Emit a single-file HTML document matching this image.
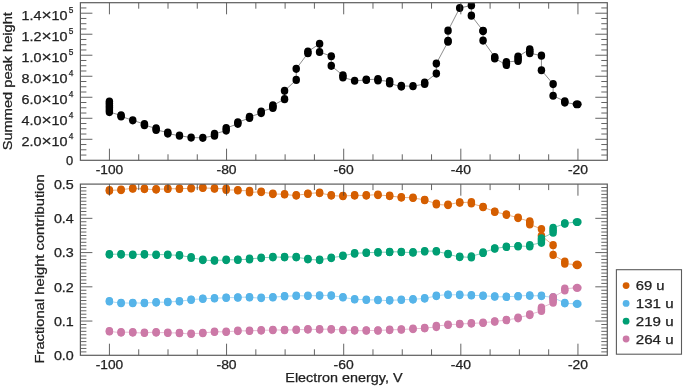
<!DOCTYPE html>
<html><head><meta charset="utf-8"><style>
html,body{margin:0;padding:0;background:#fff;width:685px;height:388px;overflow:hidden}
svg{display:block;font-family:"Liberation Sans", sans-serif;will-change:transform}
</style></head><body>
<svg width="685" height="388" viewBox="0 0 685 388">
<defs>
<clipPath id="ct"><rect x="80.4" y="2.7" width="526.9" height="157.60000000000002"/></clipPath>
<clipPath id="cb"><rect x="80.4" y="184.1" width="526.9" height="171.20000000000002"/></clipPath>
</defs>
<rect width="685" height="388" fill="#ffffff"/>
<g clip-path="url(#ct)">
<polyline points="109.40,101.50 109.40,112.10 121.08,115.40 121.08,116.40 132.75,120.35 144.43,124.10 144.43,125.20 156.11,128.40 156.11,129.90 167.78,132.50 167.78,133.60 179.46,135.70 191.14,137.55 202.81,137.80 214.49,135.70 214.49,133.90 226.17,130.60 226.17,128.10 237.84,123.80 237.84,122.30 249.52,118.00 249.52,116.90 261.20,113.10 261.20,111.60 272.87,107.90 272.87,105.40 284.55,99.15 284.55,90.80 296.23,79.90 296.23,68.85 307.90,53.20 307.90,51.50 319.58,43.85 319.58,52.00 331.26,56.25 331.26,65.85 342.93,75.30 342.93,77.40 354.61,80.75 366.29,80.00 366.29,79.60 377.96,79.20 377.96,80.40 389.64,81.20 389.64,83.50 401.32,86.60 401.32,85.90 412.99,86.20 424.67,84.00 424.67,82.50 436.34,73.55 436.34,63.55 448.02,41.70 448.02,40.90 448.02,30.65 459.70,8.00 471.37,5.40 471.37,15.65 483.05,30.80 483.05,31.10 483.05,40.60 494.73,57.00 494.73,58.40 506.40,64.90 506.40,62.10 518.08,60.90 518.08,56.50 529.76,49.30 529.76,53.20 541.43,55.65 541.43,70.25 553.11,84.05 553.11,95.75 564.79,101.30 564.79,102.60 577.16,104.25" fill="none" stroke="#606060" stroke-width="0.9" stroke-opacity="0.8" stroke-linejoin="round"/>
<ellipse cx="109.40" cy="101.50" rx="3.75" ry="4.1" fill="#000000"/><ellipse cx="109.40" cy="103.62" rx="3.75" ry="4.1" fill="#000000"/><ellipse cx="109.40" cy="105.74" rx="3.75" ry="4.1" fill="#000000"/><ellipse cx="109.40" cy="107.86" rx="3.75" ry="4.1" fill="#000000"/><ellipse cx="109.40" cy="109.98" rx="3.75" ry="4.1" fill="#000000"/><ellipse cx="109.40" cy="112.10" rx="3.75" ry="4.1" fill="#000000"/>
<ellipse cx="121.08" cy="115.40" rx="3.75" ry="4.1" fill="#000000"/><ellipse cx="121.08" cy="116.40" rx="3.75" ry="4.1" fill="#000000"/>
<ellipse cx="132.75" cy="120.35" rx="3.75" ry="4.1" fill="#000000"/>
<ellipse cx="144.43" cy="124.10" rx="3.75" ry="4.1" fill="#000000"/><ellipse cx="144.43" cy="125.20" rx="3.75" ry="4.1" fill="#000000"/>
<ellipse cx="156.11" cy="128.40" rx="3.75" ry="4.1" fill="#000000"/><ellipse cx="156.11" cy="129.90" rx="3.75" ry="4.1" fill="#000000"/>
<ellipse cx="167.78" cy="132.50" rx="3.75" ry="4.1" fill="#000000"/><ellipse cx="167.78" cy="133.60" rx="3.75" ry="4.1" fill="#000000"/>
<ellipse cx="179.46" cy="135.70" rx="3.75" ry="4.1" fill="#000000"/>
<ellipse cx="191.14" cy="137.55" rx="3.75" ry="4.1" fill="#000000"/>
<ellipse cx="202.81" cy="137.80" rx="3.75" ry="4.1" fill="#000000"/>
<ellipse cx="214.49" cy="133.90" rx="3.75" ry="4.1" fill="#000000"/><ellipse cx="214.49" cy="135.70" rx="3.75" ry="4.1" fill="#000000"/>
<ellipse cx="226.17" cy="128.10" rx="3.75" ry="4.1" fill="#000000"/><ellipse cx="226.17" cy="130.60" rx="3.75" ry="4.1" fill="#000000"/>
<ellipse cx="237.84" cy="122.30" rx="3.75" ry="4.1" fill="#000000"/><ellipse cx="237.84" cy="123.80" rx="3.75" ry="4.1" fill="#000000"/>
<ellipse cx="249.52" cy="116.90" rx="3.75" ry="4.1" fill="#000000"/><ellipse cx="249.52" cy="118.00" rx="3.75" ry="4.1" fill="#000000"/>
<ellipse cx="261.20" cy="111.60" rx="3.75" ry="4.1" fill="#000000"/><ellipse cx="261.20" cy="113.10" rx="3.75" ry="4.1" fill="#000000"/>
<ellipse cx="272.87" cy="105.40" rx="3.75" ry="4.1" fill="#000000"/><ellipse cx="272.87" cy="106.65" rx="3.75" ry="4.1" fill="#000000"/><ellipse cx="272.87" cy="107.90" rx="3.75" ry="4.1" fill="#000000"/>
<ellipse cx="284.55" cy="90.80" rx="3.75" ry="4.1" fill="#000000"/>
<ellipse cx="284.55" cy="99.15" rx="3.75" ry="4.1" fill="#000000"/>
<ellipse cx="296.23" cy="68.85" rx="3.75" ry="4.1" fill="#000000"/>
<ellipse cx="296.23" cy="79.90" rx="3.75" ry="4.1" fill="#000000"/>
<ellipse cx="307.90" cy="51.50" rx="3.75" ry="4.1" fill="#000000"/><ellipse cx="307.90" cy="53.20" rx="3.75" ry="4.1" fill="#000000"/>
<ellipse cx="319.58" cy="43.85" rx="3.75" ry="4.1" fill="#000000"/>
<ellipse cx="319.58" cy="52.00" rx="3.75" ry="4.1" fill="#000000"/>
<ellipse cx="331.26" cy="56.25" rx="3.75" ry="4.1" fill="#000000"/>
<ellipse cx="331.26" cy="65.85" rx="3.75" ry="4.1" fill="#000000"/>
<ellipse cx="342.93" cy="75.30" rx="3.75" ry="4.1" fill="#000000"/><ellipse cx="342.93" cy="77.40" rx="3.75" ry="4.1" fill="#000000"/>
<ellipse cx="354.61" cy="80.75" rx="3.75" ry="4.1" fill="#000000"/>
<ellipse cx="366.29" cy="79.60" rx="3.75" ry="4.1" fill="#000000"/><ellipse cx="366.29" cy="80.00" rx="3.75" ry="4.1" fill="#000000"/>
<ellipse cx="377.96" cy="79.20" rx="3.75" ry="4.1" fill="#000000"/><ellipse cx="377.96" cy="80.40" rx="3.75" ry="4.1" fill="#000000"/>
<ellipse cx="389.64" cy="81.20" rx="3.75" ry="4.1" fill="#000000"/><ellipse cx="389.64" cy="83.50" rx="3.75" ry="4.1" fill="#000000"/>
<ellipse cx="401.32" cy="85.90" rx="3.75" ry="4.1" fill="#000000"/><ellipse cx="401.32" cy="86.60" rx="3.75" ry="4.1" fill="#000000"/>
<ellipse cx="412.99" cy="86.20" rx="3.75" ry="4.1" fill="#000000"/>
<ellipse cx="424.67" cy="82.50" rx="3.75" ry="4.1" fill="#000000"/><ellipse cx="424.67" cy="84.00" rx="3.75" ry="4.1" fill="#000000"/>
<ellipse cx="436.34" cy="63.55" rx="3.75" ry="4.1" fill="#000000"/>
<ellipse cx="436.34" cy="73.55" rx="3.75" ry="4.1" fill="#000000"/>
<ellipse cx="448.02" cy="30.65" rx="3.75" ry="4.1" fill="#000000"/>
<ellipse cx="448.02" cy="40.90" rx="3.75" ry="4.1" fill="#000000"/><ellipse cx="448.02" cy="41.70" rx="3.75" ry="4.1" fill="#000000"/>
<ellipse cx="459.70" cy="8.00" rx="3.75" ry="4.1" fill="#000000"/>
<ellipse cx="471.37" cy="5.40" rx="3.75" ry="4.1" fill="#000000"/>
<ellipse cx="471.37" cy="15.65" rx="3.75" ry="4.1" fill="#000000"/>
<ellipse cx="483.05" cy="30.80" rx="3.75" ry="4.1" fill="#000000"/><ellipse cx="483.05" cy="31.10" rx="3.75" ry="4.1" fill="#000000"/>
<ellipse cx="483.05" cy="40.60" rx="3.75" ry="4.1" fill="#000000"/>
<ellipse cx="494.73" cy="57.00" rx="3.75" ry="4.1" fill="#000000"/><ellipse cx="494.73" cy="58.40" rx="3.75" ry="4.1" fill="#000000"/>
<ellipse cx="506.40" cy="62.10" rx="3.75" ry="4.1" fill="#000000"/><ellipse cx="506.40" cy="63.50" rx="3.75" ry="4.1" fill="#000000"/><ellipse cx="506.40" cy="64.90" rx="3.75" ry="4.1" fill="#000000"/>
<ellipse cx="518.08" cy="56.50" rx="3.75" ry="4.1" fill="#000000"/><ellipse cx="518.08" cy="58.70" rx="3.75" ry="4.1" fill="#000000"/><ellipse cx="518.08" cy="60.90" rx="3.75" ry="4.1" fill="#000000"/>
<ellipse cx="529.76" cy="49.30" rx="3.75" ry="4.1" fill="#000000"/><ellipse cx="529.76" cy="51.25" rx="3.75" ry="4.1" fill="#000000"/><ellipse cx="529.76" cy="53.20" rx="3.75" ry="4.1" fill="#000000"/>
<ellipse cx="541.43" cy="55.65" rx="3.75" ry="4.1" fill="#000000"/>
<ellipse cx="541.43" cy="70.25" rx="3.75" ry="4.1" fill="#000000"/>
<ellipse cx="553.11" cy="84.05" rx="3.75" ry="4.1" fill="#000000"/>
<ellipse cx="553.11" cy="95.75" rx="3.75" ry="4.1" fill="#000000"/>
<ellipse cx="564.79" cy="101.30" rx="3.75" ry="4.1" fill="#000000"/><ellipse cx="564.79" cy="102.60" rx="3.75" ry="4.1" fill="#000000"/>
<ellipse cx="577.16" cy="104.25" rx="4.5" ry="4.1" fill="#000000"/>
</g>
<g clip-path="url(#cb)">
<polyline points="109.40,190.80 109.40,190.20 121.08,190.10 121.08,189.70 132.75,188.30 132.75,188.70 144.43,188.70 144.43,189.10 156.11,189.60 156.11,189.20 167.78,189.00 167.78,188.60 179.46,188.90 179.46,188.50 191.14,188.50 191.14,188.10 202.81,187.60 202.81,188.00 214.49,188.30 214.49,188.70 226.17,188.60 226.17,189.90 237.84,190.10 237.84,190.50 249.52,190.80 249.52,192.50 261.20,191.70 261.20,192.10 272.87,193.70 272.87,194.10 284.55,194.10 284.55,194.50 296.23,195.60 296.23,195.20 307.90,193.90 307.90,193.50 319.58,192.70 319.58,193.10 331.26,195.20 331.26,195.60 342.93,196.20 342.93,195.80 354.61,195.60 354.61,195.20 366.29,195.60 366.29,195.20 377.96,194.70 377.96,195.10 389.64,195.70 389.64,196.10 401.32,197.20 401.32,197.60 412.99,197.60 412.99,198.00 424.67,199.80 424.67,200.20 436.34,203.50 436.34,204.50 448.02,205.10 448.02,204.70 459.70,202.30 459.70,202.70 471.37,202.10 471.37,203.50 483.05,206.80 483.05,207.20 494.73,211.50 494.73,211.90 506.40,214.40 506.40,214.80 518.08,217.60 518.08,218.10 529.76,221.30 529.76,224.40 541.43,229.00 541.43,235.80 553.11,245.20 553.11,254.95 564.79,261.60 564.79,263.70 577.16,264.70 577.16,265.20" fill="none" stroke="#D55E00" stroke-width="0.9" stroke-opacity="0.55" stroke-linejoin="round"/>
<ellipse cx="109.40" cy="190.20" rx="3.75" ry="4.1" fill="#D55E00"/><ellipse cx="109.40" cy="190.80" rx="3.75" ry="4.1" fill="#D55E00"/>
<ellipse cx="121.08" cy="189.70" rx="3.75" ry="4.1" fill="#D55E00"/><ellipse cx="121.08" cy="190.10" rx="3.75" ry="4.1" fill="#D55E00"/>
<ellipse cx="132.75" cy="188.30" rx="3.75" ry="4.1" fill="#D55E00"/><ellipse cx="132.75" cy="188.70" rx="3.75" ry="4.1" fill="#D55E00"/>
<ellipse cx="144.43" cy="188.70" rx="3.75" ry="4.1" fill="#D55E00"/><ellipse cx="144.43" cy="189.10" rx="3.75" ry="4.1" fill="#D55E00"/>
<ellipse cx="156.11" cy="189.20" rx="3.75" ry="4.1" fill="#D55E00"/><ellipse cx="156.11" cy="189.60" rx="3.75" ry="4.1" fill="#D55E00"/>
<ellipse cx="167.78" cy="188.60" rx="3.75" ry="4.1" fill="#D55E00"/><ellipse cx="167.78" cy="189.00" rx="3.75" ry="4.1" fill="#D55E00"/>
<ellipse cx="179.46" cy="188.50" rx="3.75" ry="4.1" fill="#D55E00"/><ellipse cx="179.46" cy="188.90" rx="3.75" ry="4.1" fill="#D55E00"/>
<ellipse cx="191.14" cy="188.10" rx="3.75" ry="4.1" fill="#D55E00"/><ellipse cx="191.14" cy="188.50" rx="3.75" ry="4.1" fill="#D55E00"/>
<ellipse cx="202.81" cy="187.60" rx="3.75" ry="4.1" fill="#D55E00"/><ellipse cx="202.81" cy="188.00" rx="3.75" ry="4.1" fill="#D55E00"/>
<ellipse cx="214.49" cy="188.30" rx="3.75" ry="4.1" fill="#D55E00"/><ellipse cx="214.49" cy="188.70" rx="3.75" ry="4.1" fill="#D55E00"/>
<ellipse cx="226.17" cy="188.60" rx="3.75" ry="4.1" fill="#D55E00"/><ellipse cx="226.17" cy="189.90" rx="3.75" ry="4.1" fill="#D55E00"/>
<ellipse cx="237.84" cy="190.10" rx="3.75" ry="4.1" fill="#D55E00"/><ellipse cx="237.84" cy="190.50" rx="3.75" ry="4.1" fill="#D55E00"/>
<ellipse cx="249.52" cy="190.80" rx="3.75" ry="4.1" fill="#D55E00"/><ellipse cx="249.52" cy="192.50" rx="3.75" ry="4.1" fill="#D55E00"/>
<ellipse cx="261.20" cy="191.70" rx="3.75" ry="4.1" fill="#D55E00"/><ellipse cx="261.20" cy="192.10" rx="3.75" ry="4.1" fill="#D55E00"/>
<ellipse cx="272.87" cy="193.70" rx="3.75" ry="4.1" fill="#D55E00"/><ellipse cx="272.87" cy="194.10" rx="3.75" ry="4.1" fill="#D55E00"/>
<ellipse cx="284.55" cy="194.10" rx="3.75" ry="4.1" fill="#D55E00"/><ellipse cx="284.55" cy="194.50" rx="3.75" ry="4.1" fill="#D55E00"/>
<ellipse cx="296.23" cy="195.20" rx="3.75" ry="4.1" fill="#D55E00"/><ellipse cx="296.23" cy="195.60" rx="3.75" ry="4.1" fill="#D55E00"/>
<ellipse cx="307.90" cy="193.50" rx="3.75" ry="4.1" fill="#D55E00"/><ellipse cx="307.90" cy="193.90" rx="3.75" ry="4.1" fill="#D55E00"/>
<ellipse cx="319.58" cy="192.70" rx="3.75" ry="4.1" fill="#D55E00"/><ellipse cx="319.58" cy="193.10" rx="3.75" ry="4.1" fill="#D55E00"/>
<ellipse cx="331.26" cy="195.20" rx="3.75" ry="4.1" fill="#D55E00"/><ellipse cx="331.26" cy="195.60" rx="3.75" ry="4.1" fill="#D55E00"/>
<ellipse cx="342.93" cy="195.80" rx="3.75" ry="4.1" fill="#D55E00"/><ellipse cx="342.93" cy="196.20" rx="3.75" ry="4.1" fill="#D55E00"/>
<ellipse cx="354.61" cy="195.20" rx="3.75" ry="4.1" fill="#D55E00"/><ellipse cx="354.61" cy="195.60" rx="3.75" ry="4.1" fill="#D55E00"/>
<ellipse cx="366.29" cy="195.20" rx="3.75" ry="4.1" fill="#D55E00"/><ellipse cx="366.29" cy="195.60" rx="3.75" ry="4.1" fill="#D55E00"/>
<ellipse cx="377.96" cy="194.70" rx="3.75" ry="4.1" fill="#D55E00"/><ellipse cx="377.96" cy="195.10" rx="3.75" ry="4.1" fill="#D55E00"/>
<ellipse cx="389.64" cy="195.70" rx="3.75" ry="4.1" fill="#D55E00"/><ellipse cx="389.64" cy="196.10" rx="3.75" ry="4.1" fill="#D55E00"/>
<ellipse cx="401.32" cy="197.20" rx="3.75" ry="4.1" fill="#D55E00"/><ellipse cx="401.32" cy="197.60" rx="3.75" ry="4.1" fill="#D55E00"/>
<ellipse cx="412.99" cy="197.60" rx="3.75" ry="4.1" fill="#D55E00"/><ellipse cx="412.99" cy="198.00" rx="3.75" ry="4.1" fill="#D55E00"/>
<ellipse cx="424.67" cy="199.80" rx="3.75" ry="4.1" fill="#D55E00"/><ellipse cx="424.67" cy="200.20" rx="3.75" ry="4.1" fill="#D55E00"/>
<ellipse cx="436.34" cy="203.50" rx="3.75" ry="4.1" fill="#D55E00"/><ellipse cx="436.34" cy="204.50" rx="3.75" ry="4.1" fill="#D55E00"/>
<ellipse cx="448.02" cy="204.70" rx="3.75" ry="4.1" fill="#D55E00"/><ellipse cx="448.02" cy="205.10" rx="3.75" ry="4.1" fill="#D55E00"/>
<ellipse cx="459.70" cy="202.30" rx="3.75" ry="4.1" fill="#D55E00"/><ellipse cx="459.70" cy="202.70" rx="3.75" ry="4.1" fill="#D55E00"/>
<ellipse cx="471.37" cy="202.10" rx="3.75" ry="4.1" fill="#D55E00"/><ellipse cx="471.37" cy="203.50" rx="3.75" ry="4.1" fill="#D55E00"/>
<ellipse cx="483.05" cy="206.80" rx="3.75" ry="4.1" fill="#D55E00"/><ellipse cx="483.05" cy="207.20" rx="3.75" ry="4.1" fill="#D55E00"/>
<ellipse cx="494.73" cy="211.50" rx="3.75" ry="4.1" fill="#D55E00"/><ellipse cx="494.73" cy="211.90" rx="3.75" ry="4.1" fill="#D55E00"/>
<ellipse cx="506.40" cy="214.40" rx="3.75" ry="4.1" fill="#D55E00"/><ellipse cx="506.40" cy="214.80" rx="3.75" ry="4.1" fill="#D55E00"/>
<ellipse cx="518.08" cy="217.60" rx="3.75" ry="4.1" fill="#D55E00"/><ellipse cx="518.08" cy="218.10" rx="3.75" ry="4.1" fill="#D55E00"/>
<ellipse cx="529.76" cy="221.30" rx="3.75" ry="4.1" fill="#D55E00"/><ellipse cx="529.76" cy="222.85" rx="3.75" ry="4.1" fill="#D55E00"/><ellipse cx="529.76" cy="224.40" rx="3.75" ry="4.1" fill="#D55E00"/>
<ellipse cx="541.43" cy="229.00" rx="3.75" ry="4.1" fill="#D55E00"/>
<ellipse cx="541.43" cy="235.80" rx="3.75" ry="4.1" fill="#D55E00"/>
<ellipse cx="553.11" cy="245.20" rx="3.75" ry="4.1" fill="#D55E00"/>
<ellipse cx="553.11" cy="254.95" rx="3.75" ry="4.1" fill="#D55E00"/>
<ellipse cx="564.79" cy="261.60" rx="3.75" ry="4.1" fill="#D55E00"/><ellipse cx="564.79" cy="263.70" rx="3.75" ry="4.1" fill="#D55E00"/>
<ellipse cx="577.16" cy="264.70" rx="4.5" ry="4.1" fill="#D55E00"/><ellipse cx="577.16" cy="265.20" rx="4.5" ry="4.1" fill="#D55E00"/>
<polyline points="109.40,301.10 109.40,301.50 121.08,303.20 121.08,302.80 132.75,303.20 132.75,302.80 144.43,303.20 144.43,302.80 156.11,302.60 156.11,302.20 167.78,302.20 167.78,301.80 179.46,301.50 179.46,301.10 191.14,299.90 191.14,299.50 202.81,298.90 202.81,298.50 214.49,298.50 214.49,298.10 226.17,297.90 226.17,297.50 237.84,297.70 237.84,297.30 249.52,297.10 249.52,297.50 261.20,298.10 261.20,297.70 272.87,297.50 272.87,297.10 284.55,296.40 284.55,296.00 296.23,296.00 296.23,295.60 307.90,296.00 307.90,295.60 319.58,295.80 319.58,295.40 331.26,295.40 331.26,295.80 342.93,297.10 342.93,297.50 354.61,299.10 354.61,299.50 366.29,299.60 366.29,300.00 377.96,299.80 377.96,300.20 389.64,300.60 389.64,300.20 401.32,300.00 401.32,299.60 412.99,299.60 412.99,299.20 424.67,298.60 424.67,298.20 436.34,296.10 436.34,295.70 448.02,294.50 448.02,294.90 459.70,294.70 459.70,295.10 471.37,295.10 471.37,295.50 483.05,295.50 483.05,295.90 494.73,296.30 494.73,296.70 506.40,296.90 506.40,296.50 518.08,296.40 518.08,296.00 529.76,295.40 529.76,295.80 541.43,295.70 541.43,296.10 553.11,297.30 553.11,297.70 564.79,302.90 564.79,303.30 577.16,303.90" fill="none" stroke="#56B4E9" stroke-width="0.9" stroke-opacity="0.55" stroke-linejoin="round"/>
<ellipse cx="109.40" cy="301.10" rx="3.75" ry="4.1" fill="#56B4E9"/><ellipse cx="109.40" cy="301.50" rx="3.75" ry="4.1" fill="#56B4E9"/>
<ellipse cx="121.08" cy="302.80" rx="3.75" ry="4.1" fill="#56B4E9"/><ellipse cx="121.08" cy="303.20" rx="3.75" ry="4.1" fill="#56B4E9"/>
<ellipse cx="132.75" cy="302.80" rx="3.75" ry="4.1" fill="#56B4E9"/><ellipse cx="132.75" cy="303.20" rx="3.75" ry="4.1" fill="#56B4E9"/>
<ellipse cx="144.43" cy="302.80" rx="3.75" ry="4.1" fill="#56B4E9"/><ellipse cx="144.43" cy="303.20" rx="3.75" ry="4.1" fill="#56B4E9"/>
<ellipse cx="156.11" cy="302.20" rx="3.75" ry="4.1" fill="#56B4E9"/><ellipse cx="156.11" cy="302.60" rx="3.75" ry="4.1" fill="#56B4E9"/>
<ellipse cx="167.78" cy="301.80" rx="3.75" ry="4.1" fill="#56B4E9"/><ellipse cx="167.78" cy="302.20" rx="3.75" ry="4.1" fill="#56B4E9"/>
<ellipse cx="179.46" cy="301.10" rx="3.75" ry="4.1" fill="#56B4E9"/><ellipse cx="179.46" cy="301.50" rx="3.75" ry="4.1" fill="#56B4E9"/>
<ellipse cx="191.14" cy="299.50" rx="3.75" ry="4.1" fill="#56B4E9"/><ellipse cx="191.14" cy="299.90" rx="3.75" ry="4.1" fill="#56B4E9"/>
<ellipse cx="202.81" cy="298.50" rx="3.75" ry="4.1" fill="#56B4E9"/><ellipse cx="202.81" cy="298.90" rx="3.75" ry="4.1" fill="#56B4E9"/>
<ellipse cx="214.49" cy="298.10" rx="3.75" ry="4.1" fill="#56B4E9"/><ellipse cx="214.49" cy="298.50" rx="3.75" ry="4.1" fill="#56B4E9"/>
<ellipse cx="226.17" cy="297.50" rx="3.75" ry="4.1" fill="#56B4E9"/><ellipse cx="226.17" cy="297.90" rx="3.75" ry="4.1" fill="#56B4E9"/>
<ellipse cx="237.84" cy="297.30" rx="3.75" ry="4.1" fill="#56B4E9"/><ellipse cx="237.84" cy="297.70" rx="3.75" ry="4.1" fill="#56B4E9"/>
<ellipse cx="249.52" cy="297.10" rx="3.75" ry="4.1" fill="#56B4E9"/><ellipse cx="249.52" cy="297.50" rx="3.75" ry="4.1" fill="#56B4E9"/>
<ellipse cx="261.20" cy="297.70" rx="3.75" ry="4.1" fill="#56B4E9"/><ellipse cx="261.20" cy="298.10" rx="3.75" ry="4.1" fill="#56B4E9"/>
<ellipse cx="272.87" cy="297.10" rx="3.75" ry="4.1" fill="#56B4E9"/><ellipse cx="272.87" cy="297.50" rx="3.75" ry="4.1" fill="#56B4E9"/>
<ellipse cx="284.55" cy="296.00" rx="3.75" ry="4.1" fill="#56B4E9"/><ellipse cx="284.55" cy="296.40" rx="3.75" ry="4.1" fill="#56B4E9"/>
<ellipse cx="296.23" cy="295.60" rx="3.75" ry="4.1" fill="#56B4E9"/><ellipse cx="296.23" cy="296.00" rx="3.75" ry="4.1" fill="#56B4E9"/>
<ellipse cx="307.90" cy="295.60" rx="3.75" ry="4.1" fill="#56B4E9"/><ellipse cx="307.90" cy="296.00" rx="3.75" ry="4.1" fill="#56B4E9"/>
<ellipse cx="319.58" cy="295.40" rx="3.75" ry="4.1" fill="#56B4E9"/><ellipse cx="319.58" cy="295.80" rx="3.75" ry="4.1" fill="#56B4E9"/>
<ellipse cx="331.26" cy="295.40" rx="3.75" ry="4.1" fill="#56B4E9"/><ellipse cx="331.26" cy="295.80" rx="3.75" ry="4.1" fill="#56B4E9"/>
<ellipse cx="342.93" cy="297.10" rx="3.75" ry="4.1" fill="#56B4E9"/><ellipse cx="342.93" cy="297.50" rx="3.75" ry="4.1" fill="#56B4E9"/>
<ellipse cx="354.61" cy="299.10" rx="3.75" ry="4.1" fill="#56B4E9"/><ellipse cx="354.61" cy="299.50" rx="3.75" ry="4.1" fill="#56B4E9"/>
<ellipse cx="366.29" cy="299.60" rx="3.75" ry="4.1" fill="#56B4E9"/><ellipse cx="366.29" cy="300.00" rx="3.75" ry="4.1" fill="#56B4E9"/>
<ellipse cx="377.96" cy="299.80" rx="3.75" ry="4.1" fill="#56B4E9"/><ellipse cx="377.96" cy="300.20" rx="3.75" ry="4.1" fill="#56B4E9"/>
<ellipse cx="389.64" cy="300.20" rx="3.75" ry="4.1" fill="#56B4E9"/><ellipse cx="389.64" cy="300.60" rx="3.75" ry="4.1" fill="#56B4E9"/>
<ellipse cx="401.32" cy="299.60" rx="3.75" ry="4.1" fill="#56B4E9"/><ellipse cx="401.32" cy="300.00" rx="3.75" ry="4.1" fill="#56B4E9"/>
<ellipse cx="412.99" cy="299.20" rx="3.75" ry="4.1" fill="#56B4E9"/><ellipse cx="412.99" cy="299.60" rx="3.75" ry="4.1" fill="#56B4E9"/>
<ellipse cx="424.67" cy="298.20" rx="3.75" ry="4.1" fill="#56B4E9"/><ellipse cx="424.67" cy="298.60" rx="3.75" ry="4.1" fill="#56B4E9"/>
<ellipse cx="436.34" cy="295.70" rx="3.75" ry="4.1" fill="#56B4E9"/><ellipse cx="436.34" cy="296.10" rx="3.75" ry="4.1" fill="#56B4E9"/>
<ellipse cx="448.02" cy="294.50" rx="3.75" ry="4.1" fill="#56B4E9"/><ellipse cx="448.02" cy="294.90" rx="3.75" ry="4.1" fill="#56B4E9"/>
<ellipse cx="459.70" cy="294.70" rx="3.75" ry="4.1" fill="#56B4E9"/><ellipse cx="459.70" cy="295.10" rx="3.75" ry="4.1" fill="#56B4E9"/>
<ellipse cx="471.37" cy="295.10" rx="3.75" ry="4.1" fill="#56B4E9"/><ellipse cx="471.37" cy="295.50" rx="3.75" ry="4.1" fill="#56B4E9"/>
<ellipse cx="483.05" cy="295.50" rx="3.75" ry="4.1" fill="#56B4E9"/><ellipse cx="483.05" cy="295.90" rx="3.75" ry="4.1" fill="#56B4E9"/>
<ellipse cx="494.73" cy="296.30" rx="3.75" ry="4.1" fill="#56B4E9"/><ellipse cx="494.73" cy="296.70" rx="3.75" ry="4.1" fill="#56B4E9"/>
<ellipse cx="506.40" cy="296.50" rx="3.75" ry="4.1" fill="#56B4E9"/><ellipse cx="506.40" cy="296.90" rx="3.75" ry="4.1" fill="#56B4E9"/>
<ellipse cx="518.08" cy="296.00" rx="3.75" ry="4.1" fill="#56B4E9"/><ellipse cx="518.08" cy="296.40" rx="3.75" ry="4.1" fill="#56B4E9"/>
<ellipse cx="529.76" cy="295.40" rx="3.75" ry="4.1" fill="#56B4E9"/><ellipse cx="529.76" cy="295.80" rx="3.75" ry="4.1" fill="#56B4E9"/>
<ellipse cx="541.43" cy="295.70" rx="3.75" ry="4.1" fill="#56B4E9"/><ellipse cx="541.43" cy="296.10" rx="3.75" ry="4.1" fill="#56B4E9"/>
<ellipse cx="553.11" cy="297.30" rx="3.75" ry="4.1" fill="#56B4E9"/><ellipse cx="553.11" cy="297.70" rx="3.75" ry="4.1" fill="#56B4E9"/>
<ellipse cx="564.79" cy="302.90" rx="3.75" ry="4.1" fill="#56B4E9"/><ellipse cx="564.79" cy="303.30" rx="3.75" ry="4.1" fill="#56B4E9"/>
<ellipse cx="577.16" cy="303.90" rx="4.5" ry="4.1" fill="#56B4E9"/>
<polyline points="109.40,254.60 109.40,254.20 121.08,254.20 121.08,254.60 132.75,255.00 132.75,254.60 144.43,254.20 144.43,254.60 156.11,255.00 156.11,254.60 167.78,254.60 167.78,255.00 179.46,255.20 179.46,255.60 191.14,257.10 191.14,257.90 202.81,259.70 202.81,260.10 214.49,260.70 214.49,260.30 226.17,260.10 226.17,259.70 237.84,259.90 237.84,259.50 249.52,259.50 249.52,258.70 261.20,258.10 261.20,257.70 272.87,257.30 272.87,256.90 284.55,257.30 284.55,256.90 296.23,256.90 296.23,257.30 307.90,258.90 307.90,259.30 319.58,260.10 319.58,259.70 331.26,258.10 331.26,257.70 342.93,256.00 342.93,255.60 354.61,253.60 354.61,253.20 366.29,252.90 366.29,252.50 377.96,252.60 377.96,252.20 389.64,252.20 389.64,251.80 401.32,251.80 401.32,252.20 412.99,252.60 412.99,252.20 424.67,251.50 424.67,251.10 436.34,251.10 436.34,251.50 448.02,253.80 448.02,254.20 459.70,257.10 459.70,256.70 471.37,257.50 471.37,256.30 483.05,253.00 483.05,252.40 494.73,248.70 494.73,248.30 506.40,247.00 506.40,246.60 518.08,246.40 518.08,246.00 529.76,246.40 529.76,245.10 541.43,242.80 541.43,238.40 553.11,232.70 553.11,227.80 564.79,223.70 564.79,223.30 577.16,222.00" fill="none" stroke="#009E73" stroke-width="0.9" stroke-opacity="0.55" stroke-linejoin="round"/>
<ellipse cx="109.40" cy="254.20" rx="3.75" ry="4.1" fill="#009E73"/><ellipse cx="109.40" cy="254.60" rx="3.75" ry="4.1" fill="#009E73"/>
<ellipse cx="121.08" cy="254.20" rx="3.75" ry="4.1" fill="#009E73"/><ellipse cx="121.08" cy="254.60" rx="3.75" ry="4.1" fill="#009E73"/>
<ellipse cx="132.75" cy="254.60" rx="3.75" ry="4.1" fill="#009E73"/><ellipse cx="132.75" cy="255.00" rx="3.75" ry="4.1" fill="#009E73"/>
<ellipse cx="144.43" cy="254.20" rx="3.75" ry="4.1" fill="#009E73"/><ellipse cx="144.43" cy="254.60" rx="3.75" ry="4.1" fill="#009E73"/>
<ellipse cx="156.11" cy="254.60" rx="3.75" ry="4.1" fill="#009E73"/><ellipse cx="156.11" cy="255.00" rx="3.75" ry="4.1" fill="#009E73"/>
<ellipse cx="167.78" cy="254.60" rx="3.75" ry="4.1" fill="#009E73"/><ellipse cx="167.78" cy="255.00" rx="3.75" ry="4.1" fill="#009E73"/>
<ellipse cx="179.46" cy="255.20" rx="3.75" ry="4.1" fill="#009E73"/><ellipse cx="179.46" cy="255.60" rx="3.75" ry="4.1" fill="#009E73"/>
<ellipse cx="191.14" cy="257.10" rx="3.75" ry="4.1" fill="#009E73"/><ellipse cx="191.14" cy="257.90" rx="3.75" ry="4.1" fill="#009E73"/>
<ellipse cx="202.81" cy="259.70" rx="3.75" ry="4.1" fill="#009E73"/><ellipse cx="202.81" cy="260.10" rx="3.75" ry="4.1" fill="#009E73"/>
<ellipse cx="214.49" cy="260.30" rx="3.75" ry="4.1" fill="#009E73"/><ellipse cx="214.49" cy="260.70" rx="3.75" ry="4.1" fill="#009E73"/>
<ellipse cx="226.17" cy="259.70" rx="3.75" ry="4.1" fill="#009E73"/><ellipse cx="226.17" cy="260.10" rx="3.75" ry="4.1" fill="#009E73"/>
<ellipse cx="237.84" cy="259.50" rx="3.75" ry="4.1" fill="#009E73"/><ellipse cx="237.84" cy="259.90" rx="3.75" ry="4.1" fill="#009E73"/>
<ellipse cx="249.52" cy="258.70" rx="3.75" ry="4.1" fill="#009E73"/><ellipse cx="249.52" cy="259.50" rx="3.75" ry="4.1" fill="#009E73"/>
<ellipse cx="261.20" cy="257.70" rx="3.75" ry="4.1" fill="#009E73"/><ellipse cx="261.20" cy="258.10" rx="3.75" ry="4.1" fill="#009E73"/>
<ellipse cx="272.87" cy="256.90" rx="3.75" ry="4.1" fill="#009E73"/><ellipse cx="272.87" cy="257.30" rx="3.75" ry="4.1" fill="#009E73"/>
<ellipse cx="284.55" cy="256.90" rx="3.75" ry="4.1" fill="#009E73"/><ellipse cx="284.55" cy="257.30" rx="3.75" ry="4.1" fill="#009E73"/>
<ellipse cx="296.23" cy="256.90" rx="3.75" ry="4.1" fill="#009E73"/><ellipse cx="296.23" cy="257.30" rx="3.75" ry="4.1" fill="#009E73"/>
<ellipse cx="307.90" cy="258.90" rx="3.75" ry="4.1" fill="#009E73"/><ellipse cx="307.90" cy="259.30" rx="3.75" ry="4.1" fill="#009E73"/>
<ellipse cx="319.58" cy="259.70" rx="3.75" ry="4.1" fill="#009E73"/><ellipse cx="319.58" cy="260.10" rx="3.75" ry="4.1" fill="#009E73"/>
<ellipse cx="331.26" cy="257.70" rx="3.75" ry="4.1" fill="#009E73"/><ellipse cx="331.26" cy="258.10" rx="3.75" ry="4.1" fill="#009E73"/>
<ellipse cx="342.93" cy="255.60" rx="3.75" ry="4.1" fill="#009E73"/><ellipse cx="342.93" cy="256.00" rx="3.75" ry="4.1" fill="#009E73"/>
<ellipse cx="354.61" cy="253.20" rx="3.75" ry="4.1" fill="#009E73"/><ellipse cx="354.61" cy="253.60" rx="3.75" ry="4.1" fill="#009E73"/>
<ellipse cx="366.29" cy="252.50" rx="3.75" ry="4.1" fill="#009E73"/><ellipse cx="366.29" cy="252.90" rx="3.75" ry="4.1" fill="#009E73"/>
<ellipse cx="377.96" cy="252.20" rx="3.75" ry="4.1" fill="#009E73"/><ellipse cx="377.96" cy="252.60" rx="3.75" ry="4.1" fill="#009E73"/>
<ellipse cx="389.64" cy="251.80" rx="3.75" ry="4.1" fill="#009E73"/><ellipse cx="389.64" cy="252.20" rx="3.75" ry="4.1" fill="#009E73"/>
<ellipse cx="401.32" cy="251.80" rx="3.75" ry="4.1" fill="#009E73"/><ellipse cx="401.32" cy="252.20" rx="3.75" ry="4.1" fill="#009E73"/>
<ellipse cx="412.99" cy="252.20" rx="3.75" ry="4.1" fill="#009E73"/><ellipse cx="412.99" cy="252.60" rx="3.75" ry="4.1" fill="#009E73"/>
<ellipse cx="424.67" cy="251.10" rx="3.75" ry="4.1" fill="#009E73"/><ellipse cx="424.67" cy="251.50" rx="3.75" ry="4.1" fill="#009E73"/>
<ellipse cx="436.34" cy="251.10" rx="3.75" ry="4.1" fill="#009E73"/><ellipse cx="436.34" cy="251.50" rx="3.75" ry="4.1" fill="#009E73"/>
<ellipse cx="448.02" cy="253.80" rx="3.75" ry="4.1" fill="#009E73"/><ellipse cx="448.02" cy="254.20" rx="3.75" ry="4.1" fill="#009E73"/>
<ellipse cx="459.70" cy="256.70" rx="3.75" ry="4.1" fill="#009E73"/><ellipse cx="459.70" cy="257.10" rx="3.75" ry="4.1" fill="#009E73"/>
<ellipse cx="471.37" cy="256.30" rx="3.75" ry="4.1" fill="#009E73"/><ellipse cx="471.37" cy="257.50" rx="3.75" ry="4.1" fill="#009E73"/>
<ellipse cx="483.05" cy="252.40" rx="3.75" ry="4.1" fill="#009E73"/><ellipse cx="483.05" cy="253.00" rx="3.75" ry="4.1" fill="#009E73"/>
<ellipse cx="494.73" cy="248.30" rx="3.75" ry="4.1" fill="#009E73"/><ellipse cx="494.73" cy="248.70" rx="3.75" ry="4.1" fill="#009E73"/>
<ellipse cx="506.40" cy="246.60" rx="3.75" ry="4.1" fill="#009E73"/><ellipse cx="506.40" cy="247.00" rx="3.75" ry="4.1" fill="#009E73"/>
<ellipse cx="518.08" cy="246.00" rx="3.75" ry="4.1" fill="#009E73"/><ellipse cx="518.08" cy="246.40" rx="3.75" ry="4.1" fill="#009E73"/>
<ellipse cx="529.76" cy="245.10" rx="3.75" ry="4.1" fill="#009E73"/><ellipse cx="529.76" cy="246.40" rx="3.75" ry="4.1" fill="#009E73"/>
<ellipse cx="541.43" cy="238.40" rx="3.75" ry="4.1" fill="#009E73"/><ellipse cx="541.43" cy="240.60" rx="3.75" ry="4.1" fill="#009E73"/><ellipse cx="541.43" cy="242.80" rx="3.75" ry="4.1" fill="#009E73"/>
<ellipse cx="553.11" cy="227.80" rx="3.75" ry="4.1" fill="#009E73"/><ellipse cx="553.11" cy="230.25" rx="3.75" ry="4.1" fill="#009E73"/><ellipse cx="553.11" cy="232.70" rx="3.75" ry="4.1" fill="#009E73"/>
<ellipse cx="564.79" cy="223.30" rx="3.75" ry="4.1" fill="#009E73"/><ellipse cx="564.79" cy="223.70" rx="3.75" ry="4.1" fill="#009E73"/>
<ellipse cx="577.16" cy="222.00" rx="4.5" ry="4.1" fill="#009E73"/>
<polyline points="109.40,331.10 109.40,331.50 121.08,332.60 121.08,332.20 132.75,332.20 132.75,332.60 144.43,333.00 144.43,332.60 156.11,332.20 156.11,332.60 167.78,332.60 167.78,333.00 179.46,332.80 179.46,333.20 191.14,334.00 191.14,333.60 202.81,333.20 202.81,332.80 214.49,332.00 214.49,331.60 226.17,332.00 226.17,331.60 237.84,331.10 237.84,330.70 249.52,331.00 249.52,330.60 261.20,330.60 261.20,330.20 272.87,330.20 272.87,329.80 284.55,330.20 284.55,329.80 296.23,330.00 296.23,329.60 307.90,329.60 307.90,329.20 319.58,329.60 319.58,329.20 331.26,329.20 331.26,329.60 342.93,329.80 342.93,330.20 354.61,330.20 354.61,330.60 366.29,330.70 366.29,330.30 377.96,330.70 377.96,330.30 389.64,330.10 389.64,329.70 401.32,329.70 401.32,329.30 412.99,329.10 412.99,328.70 424.67,328.30 424.67,327.90 436.34,327.10 436.34,325.90 448.02,325.00 448.02,324.60 459.70,324.20 459.70,323.80 471.37,323.60 471.37,323.20 483.05,323.00 483.05,322.60 494.73,321.70 494.73,321.30 506.40,320.20 506.40,319.80 518.08,318.30 518.08,317.60 529.76,315.10 529.76,314.40 541.43,311.00 541.43,307.70 553.11,302.70 553.11,297.10 564.79,290.50 564.79,288.70 577.16,287.80" fill="none" stroke="#CC79A7" stroke-width="0.9" stroke-opacity="0.55" stroke-linejoin="round"/>
<ellipse cx="109.40" cy="331.10" rx="3.75" ry="4.1" fill="#CC79A7"/><ellipse cx="109.40" cy="331.50" rx="3.75" ry="4.1" fill="#CC79A7"/>
<ellipse cx="121.08" cy="332.20" rx="3.75" ry="4.1" fill="#CC79A7"/><ellipse cx="121.08" cy="332.60" rx="3.75" ry="4.1" fill="#CC79A7"/>
<ellipse cx="132.75" cy="332.20" rx="3.75" ry="4.1" fill="#CC79A7"/><ellipse cx="132.75" cy="332.60" rx="3.75" ry="4.1" fill="#CC79A7"/>
<ellipse cx="144.43" cy="332.60" rx="3.75" ry="4.1" fill="#CC79A7"/><ellipse cx="144.43" cy="333.00" rx="3.75" ry="4.1" fill="#CC79A7"/>
<ellipse cx="156.11" cy="332.20" rx="3.75" ry="4.1" fill="#CC79A7"/><ellipse cx="156.11" cy="332.60" rx="3.75" ry="4.1" fill="#CC79A7"/>
<ellipse cx="167.78" cy="332.60" rx="3.75" ry="4.1" fill="#CC79A7"/><ellipse cx="167.78" cy="333.00" rx="3.75" ry="4.1" fill="#CC79A7"/>
<ellipse cx="179.46" cy="332.80" rx="3.75" ry="4.1" fill="#CC79A7"/><ellipse cx="179.46" cy="333.20" rx="3.75" ry="4.1" fill="#CC79A7"/>
<ellipse cx="191.14" cy="333.60" rx="3.75" ry="4.1" fill="#CC79A7"/><ellipse cx="191.14" cy="334.00" rx="3.75" ry="4.1" fill="#CC79A7"/>
<ellipse cx="202.81" cy="332.80" rx="3.75" ry="4.1" fill="#CC79A7"/><ellipse cx="202.81" cy="333.20" rx="3.75" ry="4.1" fill="#CC79A7"/>
<ellipse cx="214.49" cy="331.60" rx="3.75" ry="4.1" fill="#CC79A7"/><ellipse cx="214.49" cy="332.00" rx="3.75" ry="4.1" fill="#CC79A7"/>
<ellipse cx="226.17" cy="331.60" rx="3.75" ry="4.1" fill="#CC79A7"/><ellipse cx="226.17" cy="332.00" rx="3.75" ry="4.1" fill="#CC79A7"/>
<ellipse cx="237.84" cy="330.70" rx="3.75" ry="4.1" fill="#CC79A7"/><ellipse cx="237.84" cy="331.10" rx="3.75" ry="4.1" fill="#CC79A7"/>
<ellipse cx="249.52" cy="330.60" rx="3.75" ry="4.1" fill="#CC79A7"/><ellipse cx="249.52" cy="331.00" rx="3.75" ry="4.1" fill="#CC79A7"/>
<ellipse cx="261.20" cy="330.20" rx="3.75" ry="4.1" fill="#CC79A7"/><ellipse cx="261.20" cy="330.60" rx="3.75" ry="4.1" fill="#CC79A7"/>
<ellipse cx="272.87" cy="329.80" rx="3.75" ry="4.1" fill="#CC79A7"/><ellipse cx="272.87" cy="330.20" rx="3.75" ry="4.1" fill="#CC79A7"/>
<ellipse cx="284.55" cy="329.80" rx="3.75" ry="4.1" fill="#CC79A7"/><ellipse cx="284.55" cy="330.20" rx="3.75" ry="4.1" fill="#CC79A7"/>
<ellipse cx="296.23" cy="329.60" rx="3.75" ry="4.1" fill="#CC79A7"/><ellipse cx="296.23" cy="330.00" rx="3.75" ry="4.1" fill="#CC79A7"/>
<ellipse cx="307.90" cy="329.20" rx="3.75" ry="4.1" fill="#CC79A7"/><ellipse cx="307.90" cy="329.60" rx="3.75" ry="4.1" fill="#CC79A7"/>
<ellipse cx="319.58" cy="329.20" rx="3.75" ry="4.1" fill="#CC79A7"/><ellipse cx="319.58" cy="329.60" rx="3.75" ry="4.1" fill="#CC79A7"/>
<ellipse cx="331.26" cy="329.20" rx="3.75" ry="4.1" fill="#CC79A7"/><ellipse cx="331.26" cy="329.60" rx="3.75" ry="4.1" fill="#CC79A7"/>
<ellipse cx="342.93" cy="329.80" rx="3.75" ry="4.1" fill="#CC79A7"/><ellipse cx="342.93" cy="330.20" rx="3.75" ry="4.1" fill="#CC79A7"/>
<ellipse cx="354.61" cy="330.20" rx="3.75" ry="4.1" fill="#CC79A7"/><ellipse cx="354.61" cy="330.60" rx="3.75" ry="4.1" fill="#CC79A7"/>
<ellipse cx="366.29" cy="330.30" rx="3.75" ry="4.1" fill="#CC79A7"/><ellipse cx="366.29" cy="330.70" rx="3.75" ry="4.1" fill="#CC79A7"/>
<ellipse cx="377.96" cy="330.30" rx="3.75" ry="4.1" fill="#CC79A7"/><ellipse cx="377.96" cy="330.70" rx="3.75" ry="4.1" fill="#CC79A7"/>
<ellipse cx="389.64" cy="329.70" rx="3.75" ry="4.1" fill="#CC79A7"/><ellipse cx="389.64" cy="330.10" rx="3.75" ry="4.1" fill="#CC79A7"/>
<ellipse cx="401.32" cy="329.30" rx="3.75" ry="4.1" fill="#CC79A7"/><ellipse cx="401.32" cy="329.70" rx="3.75" ry="4.1" fill="#CC79A7"/>
<ellipse cx="412.99" cy="328.70" rx="3.75" ry="4.1" fill="#CC79A7"/><ellipse cx="412.99" cy="329.10" rx="3.75" ry="4.1" fill="#CC79A7"/>
<ellipse cx="424.67" cy="327.90" rx="3.75" ry="4.1" fill="#CC79A7"/><ellipse cx="424.67" cy="328.30" rx="3.75" ry="4.1" fill="#CC79A7"/>
<ellipse cx="436.34" cy="325.90" rx="3.75" ry="4.1" fill="#CC79A7"/><ellipse cx="436.34" cy="327.10" rx="3.75" ry="4.1" fill="#CC79A7"/>
<ellipse cx="448.02" cy="324.60" rx="3.75" ry="4.1" fill="#CC79A7"/><ellipse cx="448.02" cy="325.00" rx="3.75" ry="4.1" fill="#CC79A7"/>
<ellipse cx="459.70" cy="323.80" rx="3.75" ry="4.1" fill="#CC79A7"/><ellipse cx="459.70" cy="324.20" rx="3.75" ry="4.1" fill="#CC79A7"/>
<ellipse cx="471.37" cy="323.20" rx="3.75" ry="4.1" fill="#CC79A7"/><ellipse cx="471.37" cy="323.60" rx="3.75" ry="4.1" fill="#CC79A7"/>
<ellipse cx="483.05" cy="322.60" rx="3.75" ry="4.1" fill="#CC79A7"/><ellipse cx="483.05" cy="323.00" rx="3.75" ry="4.1" fill="#CC79A7"/>
<ellipse cx="494.73" cy="321.30" rx="3.75" ry="4.1" fill="#CC79A7"/><ellipse cx="494.73" cy="321.70" rx="3.75" ry="4.1" fill="#CC79A7"/>
<ellipse cx="506.40" cy="319.80" rx="3.75" ry="4.1" fill="#CC79A7"/><ellipse cx="506.40" cy="320.20" rx="3.75" ry="4.1" fill="#CC79A7"/>
<ellipse cx="518.08" cy="317.60" rx="3.75" ry="4.1" fill="#CC79A7"/><ellipse cx="518.08" cy="318.30" rx="3.75" ry="4.1" fill="#CC79A7"/>
<ellipse cx="529.76" cy="314.40" rx="3.75" ry="4.1" fill="#CC79A7"/><ellipse cx="529.76" cy="315.10" rx="3.75" ry="4.1" fill="#CC79A7"/>
<ellipse cx="541.43" cy="307.70" rx="3.75" ry="4.1" fill="#CC79A7"/><ellipse cx="541.43" cy="309.35" rx="3.75" ry="4.1" fill="#CC79A7"/><ellipse cx="541.43" cy="311.00" rx="3.75" ry="4.1" fill="#CC79A7"/>
<ellipse cx="553.11" cy="297.10" rx="3.75" ry="4.1" fill="#CC79A7"/><ellipse cx="553.11" cy="298.97" rx="3.75" ry="4.1" fill="#CC79A7"/><ellipse cx="553.11" cy="300.83" rx="3.75" ry="4.1" fill="#CC79A7"/><ellipse cx="553.11" cy="302.70" rx="3.75" ry="4.1" fill="#CC79A7"/>
<ellipse cx="564.79" cy="288.70" rx="3.75" ry="4.1" fill="#CC79A7"/><ellipse cx="564.79" cy="290.50" rx="3.75" ry="4.1" fill="#CC79A7"/>
<ellipse cx="577.16" cy="287.80" rx="4.5" ry="4.1" fill="#CC79A7"/>
</g>
<path d="M109.43 160.30V148.70M109.43 2.70V14.30M138.71 160.30V154.30M138.71 2.70V8.70M168.00 160.30V154.30M168.00 2.70V8.70M197.28 160.30V154.30M197.28 2.70V8.70M226.56 160.30V148.70M226.56 2.70V14.30M255.84 160.30V154.30M255.84 2.70V8.70M285.12 160.30V154.30M285.12 2.70V8.70M314.41 160.30V154.30M314.41 2.70V8.70M343.69 160.30V148.70M343.69 2.70V14.30M372.97 160.30V154.30M372.97 2.70V8.70M402.25 160.30V154.30M402.25 2.70V8.70M431.54 160.30V154.30M431.54 2.70V8.70M460.82 160.30V148.70M460.82 2.70V14.30M490.10 160.30V154.30M490.10 2.70V8.70M519.38 160.30V154.30M519.38 2.70V8.70M548.67 160.30V154.30M548.67 2.70V8.70M577.95 160.30V148.70M577.95 2.70V14.30M109.43 355.30V343.70M109.43 184.10V195.70M138.71 355.30V349.30M138.71 184.10V190.10M168.00 355.30V349.30M168.00 184.10V190.10M197.28 355.30V349.30M197.28 184.10V190.10M226.56 355.30V343.70M226.56 184.10V195.70M255.84 355.30V349.30M255.84 184.10V190.10M285.12 355.30V349.30M285.12 184.10V190.10M314.41 355.30V349.30M314.41 184.10V190.10M343.69 355.30V343.70M343.69 184.10V195.70M372.97 355.30V349.30M372.97 184.10V190.10M402.25 355.30V349.30M402.25 184.10V190.10M431.54 355.30V349.30M431.54 184.10V190.10M460.82 355.30V343.70M460.82 184.10V195.70M490.10 355.30V349.30M490.10 184.10V190.10M519.38 355.30V349.30M519.38 184.10V190.10M548.67 355.30V349.30M548.67 184.10V190.10M577.95 355.30V343.70M577.95 184.10V195.70M80.40 155.05H86.40M607.30 155.05H601.30M80.40 149.79H86.40M607.30 149.79H601.30M80.40 144.54H86.40M607.30 144.54H601.30M80.40 139.29H92.40M607.30 139.29H595.30M80.40 134.03H86.40M607.30 134.03H601.30M80.40 128.78H86.40M607.30 128.78H601.30M80.40 123.53H86.40M607.30 123.53H601.30M80.40 118.27H92.40M607.30 118.27H595.30M80.40 113.02H86.40M607.30 113.02H601.30M80.40 107.77H86.40M607.30 107.77H601.30M80.40 102.51H86.40M607.30 102.51H601.30M80.40 97.26H92.40M607.30 97.26H595.30M80.40 92.01H86.40M607.30 92.01H601.30M80.40 86.75H86.40M607.30 86.75H601.30M80.40 81.50H86.40M607.30 81.50H601.30M80.40 76.25H92.40M607.30 76.25H595.30M80.40 70.99H86.40M607.30 70.99H601.30M80.40 65.74H86.40M607.30 65.74H601.30M80.40 60.49H86.40M607.30 60.49H601.30M80.40 55.23H92.40M607.30 55.23H595.30M80.40 49.98H86.40M607.30 49.98H601.30M80.40 44.73H86.40M607.30 44.73H601.30M80.40 39.47H86.40M607.30 39.47H601.30M80.40 34.22H92.40M607.30 34.22H595.30M80.40 28.97H86.40M607.30 28.97H601.30M80.40 23.71H86.40M607.30 23.71H601.30M80.40 18.46H86.40M607.30 18.46H601.30M80.40 13.21H92.40M607.30 13.21H595.30M80.40 7.95H86.40M607.30 7.95H601.30M80.40 351.88H86.40M607.30 351.88H601.30M80.40 348.45H86.40M607.30 348.45H601.30M80.40 345.03H86.40M607.30 345.03H601.30M80.40 341.60H86.40M607.30 341.60H601.30M80.40 338.18H86.40M607.30 338.18H601.30M80.40 334.76H86.40M607.30 334.76H601.30M80.40 331.33H86.40M607.30 331.33H601.30M80.40 327.91H86.40M607.30 327.91H601.30M80.40 324.48H86.40M607.30 324.48H601.30M80.40 321.06H92.40M607.30 321.06H595.30M80.40 317.64H86.40M607.30 317.64H601.30M80.40 314.21H86.40M607.30 314.21H601.30M80.40 310.79H86.40M607.30 310.79H601.30M80.40 307.36H86.40M607.30 307.36H601.30M80.40 303.94H86.40M607.30 303.94H601.30M80.40 300.52H86.40M607.30 300.52H601.30M80.40 297.09H86.40M607.30 297.09H601.30M80.40 293.67H86.40M607.30 293.67H601.30M80.40 290.24H86.40M607.30 290.24H601.30M80.40 286.82H92.40M607.30 286.82H595.30M80.40 283.40H86.40M607.30 283.40H601.30M80.40 279.97H86.40M607.30 279.97H601.30M80.40 276.55H86.40M607.30 276.55H601.30M80.40 273.12H86.40M607.30 273.12H601.30M80.40 269.70H86.40M607.30 269.70H601.30M80.40 266.28H86.40M607.30 266.28H601.30M80.40 262.85H86.40M607.30 262.85H601.30M80.40 259.43H86.40M607.30 259.43H601.30M80.40 256.00H86.40M607.30 256.00H601.30M80.40 252.58H92.40M607.30 252.58H595.30M80.40 249.16H86.40M607.30 249.16H601.30M80.40 245.73H86.40M607.30 245.73H601.30M80.40 242.31H86.40M607.30 242.31H601.30M80.40 238.88H86.40M607.30 238.88H601.30M80.40 235.46H86.40M607.30 235.46H601.30M80.40 232.04H86.40M607.30 232.04H601.30M80.40 228.61H86.40M607.30 228.61H601.30M80.40 225.19H86.40M607.30 225.19H601.30M80.40 221.76H86.40M607.30 221.76H601.30M80.40 218.34H92.40M607.30 218.34H595.30M80.40 214.92H86.40M607.30 214.92H601.30M80.40 211.49H86.40M607.30 211.49H601.30M80.40 208.07H86.40M607.30 208.07H601.30M80.40 204.64H86.40M607.30 204.64H601.30M80.40 201.22H86.40M607.30 201.22H601.30M80.40 197.80H86.40M607.30 197.80H601.30M80.40 194.37H86.40M607.30 194.37H601.30M80.40 190.95H86.40M607.30 190.95H601.30M80.40 187.52H86.40M607.30 187.52H601.30" stroke="#3c3c3c" stroke-width="0.8" fill="none"/>
<rect x="80.4" y="2.7" width="526.90" height="157.60" fill="none" stroke="#5c5c5c" stroke-width="1.2"/>
<rect x="80.4" y="184.1" width="526.90" height="171.20" fill="none" stroke="#5c5c5c" stroke-width="1.2"/>
<g fill="#222222" stroke="#222222" stroke-width="0.25" font-family='"Liberation Sans", sans-serif'>
<text x="21.50" y="19.66" font-size="12" text-anchor="start" textLength="46.10" lengthAdjust="spacingAndGlyphs">1.4<tspan font-size="14.5">×</tspan>10</text>
<text x="68.70" y="12.76" font-size="8.3" text-anchor="start">5</text>
<text x="21.50" y="40.67" font-size="12" text-anchor="start" textLength="46.10" lengthAdjust="spacingAndGlyphs">1.2<tspan font-size="14.5">×</tspan>10</text>
<text x="68.70" y="33.77" font-size="8.3" text-anchor="start">5</text>
<text x="21.50" y="61.68" font-size="12" text-anchor="start" textLength="46.10" lengthAdjust="spacingAndGlyphs">1.0<tspan font-size="14.5">×</tspan>10</text>
<text x="68.70" y="54.78" font-size="8.3" text-anchor="start">5</text>
<text x="21.50" y="82.70" font-size="12" text-anchor="start" textLength="46.10" lengthAdjust="spacingAndGlyphs">8.0<tspan font-size="14.5">×</tspan>10</text>
<text x="68.70" y="75.80" font-size="8.3" text-anchor="start">4</text>
<text x="21.50" y="103.71" font-size="12" text-anchor="start" textLength="46.10" lengthAdjust="spacingAndGlyphs">6.0<tspan font-size="14.5">×</tspan>10</text>
<text x="68.70" y="96.81" font-size="8.3" text-anchor="start">4</text>
<text x="21.50" y="124.72" font-size="12" text-anchor="start" textLength="46.10" lengthAdjust="spacingAndGlyphs">4.0<tspan font-size="14.5">×</tspan>10</text>
<text x="68.70" y="117.82" font-size="8.3" text-anchor="start">4</text>
<text x="21.50" y="145.74" font-size="12" text-anchor="start" textLength="46.10" lengthAdjust="spacingAndGlyphs">2.0<tspan font-size="14.5">×</tspan>10</text>
<text x="68.70" y="138.84" font-size="8.3" text-anchor="start">4</text>
<text x="73.20" y="165.00" font-size="12" text-anchor="end" textLength="7.20" lengthAdjust="spacingAndGlyphs">0</text>
<text x="109.43" y="173.60" font-size="12" text-anchor="middle" textLength="27.40" lengthAdjust="spacingAndGlyphs">-100</text>
<text x="109.43" y="368.60" font-size="12" text-anchor="middle" textLength="27.40" lengthAdjust="spacingAndGlyphs">-100</text>
<text x="226.56" y="173.60" font-size="12" text-anchor="middle" textLength="20.10" lengthAdjust="spacingAndGlyphs">-80</text>
<text x="226.56" y="368.60" font-size="12" text-anchor="middle" textLength="20.10" lengthAdjust="spacingAndGlyphs">-80</text>
<text x="343.69" y="173.60" font-size="12" text-anchor="middle" textLength="20.10" lengthAdjust="spacingAndGlyphs">-60</text>
<text x="343.69" y="368.60" font-size="12" text-anchor="middle" textLength="20.10" lengthAdjust="spacingAndGlyphs">-60</text>
<text x="460.82" y="173.60" font-size="12" text-anchor="middle" textLength="20.10" lengthAdjust="spacingAndGlyphs">-40</text>
<text x="460.82" y="368.60" font-size="12" text-anchor="middle" textLength="20.10" lengthAdjust="spacingAndGlyphs">-40</text>
<text x="577.95" y="173.60" font-size="12" text-anchor="middle" textLength="20.10" lengthAdjust="spacingAndGlyphs">-20</text>
<text x="577.95" y="368.60" font-size="12" text-anchor="middle" textLength="20.10" lengthAdjust="spacingAndGlyphs">-20</text>
<text x="53.90" y="360.20" font-size="12" text-anchor="start" textLength="19.90" lengthAdjust="spacingAndGlyphs">0.0</text>
<text x="53.90" y="325.96" font-size="12" text-anchor="start" textLength="19.90" lengthAdjust="spacingAndGlyphs">0.1</text>
<text x="53.90" y="291.72" font-size="12" text-anchor="start" textLength="19.90" lengthAdjust="spacingAndGlyphs">0.2</text>
<text x="53.90" y="257.48" font-size="12" text-anchor="start" textLength="19.90" lengthAdjust="spacingAndGlyphs">0.3</text>
<text x="53.90" y="223.24" font-size="12" text-anchor="start" textLength="19.90" lengthAdjust="spacingAndGlyphs">0.4</text>
<text x="53.90" y="189.00" font-size="12" text-anchor="start" textLength="19.90" lengthAdjust="spacingAndGlyphs">0.5</text>
<text x="343.90" y="382.20" font-size="12.6" text-anchor="middle" textLength="117.20" lengthAdjust="spacingAndGlyphs">Electron energy, V</text>
<text transform="translate(12.4,81.2) rotate(-90)" font-size="12.7" text-anchor="middle" textLength="138.2" lengthAdjust="spacingAndGlyphs">Summed peak height</text>
<text transform="translate(43.6,268.9) rotate(-90)" font-size="12.7" text-anchor="middle" textLength="189.2" lengthAdjust="spacingAndGlyphs">Fractional height contribution</text>
</g>
<rect x="616.4" y="269.7" width="65.1" height="84.5" fill="#ffffff" stroke="#5c5c5c" stroke-width="1.1"/>
<circle cx="626.1" cy="285.60" r="3.4" fill="#D55E00"/>
<text x="635.8" y="290.40" font-size="12" fill="#222222" stroke="#222222" stroke-width="0.25" font-family='"Liberation Sans", sans-serif' textLength="28.8" lengthAdjust="spacingAndGlyphs">69 u</text>
<circle cx="626.1" cy="303.40" r="3.4" fill="#56B4E9"/>
<text x="635.8" y="308.20" font-size="12" fill="#222222" stroke="#222222" stroke-width="0.25" font-family='"Liberation Sans", sans-serif' textLength="37.8" lengthAdjust="spacingAndGlyphs">131 u</text>
<circle cx="626.1" cy="321.20" r="3.4" fill="#009E73"/>
<text x="635.8" y="326.00" font-size="12" fill="#222222" stroke="#222222" stroke-width="0.25" font-family='"Liberation Sans", sans-serif' textLength="37.8" lengthAdjust="spacingAndGlyphs">219 u</text>
<circle cx="626.1" cy="339.00" r="3.4" fill="#CC79A7"/>
<text x="635.8" y="343.80" font-size="12" fill="#222222" stroke="#222222" stroke-width="0.25" font-family='"Liberation Sans", sans-serif' textLength="37.8" lengthAdjust="spacingAndGlyphs">264 u</text>
</svg>
</body></html>
